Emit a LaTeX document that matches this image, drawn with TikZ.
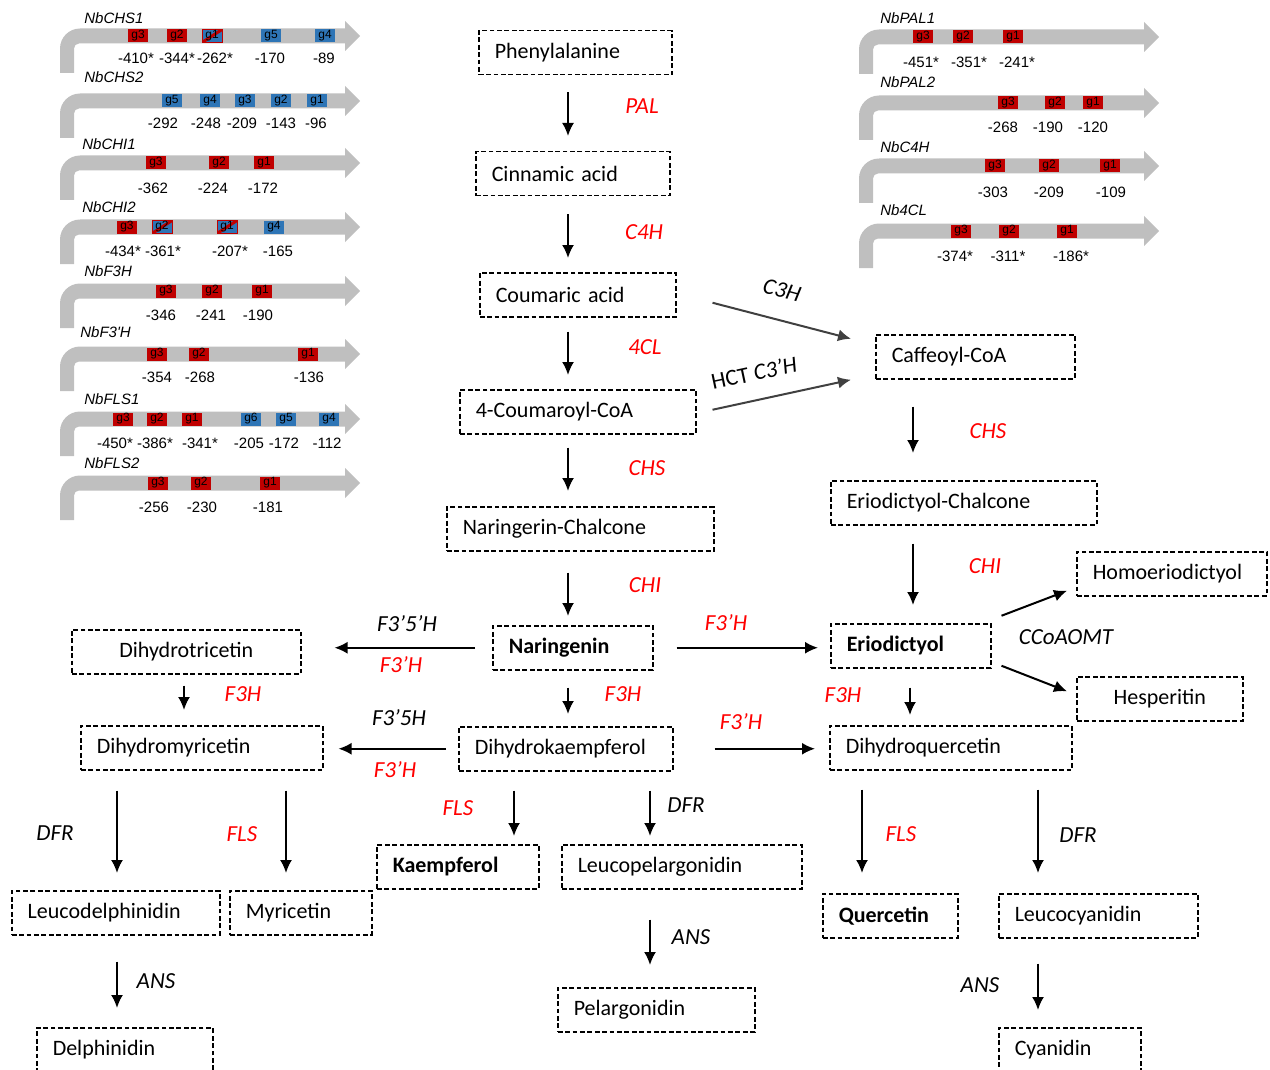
\documentclass[tikz,border=0pt]{standalone}
\usepackage{fontspec}
\setmainfont{Carlito}
\newfontfamily\arialfont{Liberation Sans}
\usetikzlibrary{arrows.meta}

\definecolor{geneRed}{HTML}{C00000}
\definecolor{geneBlue}{HTML}{2E75B6}
\definecolor{barGray}{HTML}{BFBFBF}
\definecolor{enzRed}{HTML}{FF0000}
\definecolor{sideArrow}{HTML}{404040}

\tikzset{
  promoter/.pic={
    \fill[barGray] (0,37) -- (0,12.5) arc[start angle=180,end angle=270,radius=20]
      -- (285,-7.5) -- (285,-15) -- (300,0) -- (285,15) -- (285,7.5)
      -- (19,7.5) arc[start angle=270,end angle=180,radius=5] -- (14,37) -- cycle;
  },
  gred/.style={fill=geneRed, minimum width=10pt, minimum height=6.5pt, inner sep=0pt,
    font=\arialfont\fontsize{6}{6}\selectfont},
  gblue/.style={gred, fill=geneBlue},
  gmix/.style={gblue, draw=geneRed, line width=0.5pt,
    path picture={\draw[geneRed,line width=1.5pt] (path picture bounding box.south west)
      -- (path picture bounding box.north east);}},
  gname/.style={anchor=west, inner sep=0pt, font=\arialfont\itshape\fontsize{7.5}{9}\selectfont},
  gpos/.style={inner sep=0pt, font=\arialfont\fontsize{7.5}{9}\selectfont},
  cpd/.style={draw, dash pattern=on 2.4pt off 1.3pt, line width=0.75pt, anchor=north west,
    inner xsep=8pt, inner ysep=0pt, minimum height=22pt, align=left,
    font=\fontsize{11}{13}\selectfont},
  flow/.style={-{Latex[length=6.5pt,width=6pt]}, line width=1pt},
  enz/.style={font=\itshape\fontsize{11.5}{13}\selectfont, text=enzRed, inner sep=0pt},
  enzk/.style={enz, text=black},
}

\begin{document}
\begin{tikzpicture}[x=0.5pt,y=-0.5pt]

  \useasboundingbox (0,0) rectangle (1270,1070);

  % Promoter panels, left
  \pic at (60,36) {promoter};
  \node[gname] (chsA) at (84,18) {NbCHS1};
  \foreach \x/\g/\s in {138/g3/gred,177/g2/gred,212/g1/gmix,271/g5/gblue,325/g4/gblue}
    \node[\s] (chsA\g) at (\x,36) {\g};
  \foreach \x/\t [count=\i] in {136/-410*,177/-344*,215/-262*,270/-170,324/-89}
    \node[gpos] (chsAp\i) at (\x,58) {\t};

  \pic at (60,101) {promoter};
  \node[gname] (chsB) at (84,77) {NbCHS2};
  \foreach \x/\g in {172/g5,210/g4,245/g3,281/g2,317/g1}
    \node[gblue] (chsB\g) at (\x,101) {\g};
  \foreach \x/\t [count=\i] in {163/-292,206/-248,242/-209,281/-143,316/-96}
    \node[gpos] (chsBp\i) at (\x,123) {\t};

  \pic at (60,163) {promoter};
  \node[gname] (chiA) at (82,144) {NbCHI1};
  \foreach \x/\g in {156/g3,219/g2,264/g1}
    \node[gred] (chiA\g) at (\x,163) {\g};
  \foreach \x/\t [count=\i] in {153/-362,213/-224,263/-172}
    \node[gpos] (chiAp\i) at (\x,188) {\t};

  \pic at (60,227) {promoter};
  \node[gname] (chiB) at (82,207) {NbCHI2};
  \foreach \x/\g/\s in {127/g3/gred,162/g2/gmix,227/g1/gmix,274/g4/gblue}
    \node[\s] (chiB\g) at (\x,227) {\g};
  \foreach \x/\t [count=\i] in {123/-434*,163/-361*,230/-207*,278/-165}
    \node[gpos] (chiBp\i) at (\x,251) {\t};

  \pic at (60,291) {promoter};
  \node[gname] (fht) at (84,271) {NbF3H};
  \foreach \x/\g in {166/g3,212/g2,262/g1}
    \node[gred] (fht\g) at (\x,291) {\g};
  \foreach \x/\t [count=\i] in {161/-346,211/-241,258/-190}
    \node[gpos] (fhtp\i) at (\x,315) {\t};

  \pic at (60,354) {promoter};
  \node[gname] (fth) at (80,332) {NbF3'H};
  \foreach \x/\g in {157/g3,199/g2,308/g1}
    \node[gred] (fth\g) at (\x,354) {\g};
  \foreach \x/\t [count=\i] in {157/-354,200/-268,309/-136}
    \node[gpos] (fthp\i) at (\x,377) {\t};

  \pic at (60,419) {promoter};
  \node[gname] (flsA) at (84,399) {NbFLS1};
  \foreach \x/\g/\s in {123/g3/gred,157/g2/gred,192/g1/gred,251/g6/gblue,286/g5/gblue,329/g4/gblue}
    \node[\s] (flsA\g) at (\x,419) {\g};
  \foreach \x/\t [count=\i] in {115/-450*,155/-386*,200/-341*,249/-205,284/-172,327/-112}
    \node[gpos] (flsAp\i) at (\x,443) {\t};

  \pic at (60,483) {promoter};
  \node[gname] (flsB) at (84,463) {NbFLS2};
  \foreach \x/\g in {158/g3,201/g2,270/g1}
    \node[gred] (flsB\g) at (\x,483) {\g};
  \foreach \x/\t [count=\i] in {154/-256,202/-230,268/-181}
    \node[gpos] (flsBp\i) at (\x,507) {\t};

  % Promoter panels, right
  \pic at (859,37) {promoter};
  \node[gname] (palA) at (880,18) {NbPAL1};
  \foreach \x/\g in {923/g3,963/g2,1013/g1}
    \node[gred] (palA\g) at (\x,37) {\g};
  \foreach \x/\t [count=\i] in {921/-451*,969/-351*,1017/-241*}
    \node[gpos] (palAp\i) at (\x,62) {\t};

  \pic at (859,103) {promoter};
  \node[gname] (palB) at (880,82) {NbPAL2};
  \foreach \x/\g in {1008/g3,1055/g2,1093/g1}
    \node[gred] (palB\g) at (\x,103) {\g};
  \foreach \x/\t [count=\i] in {1003/-268,1048/-190,1093/-120}
    \node[gpos] (palBp\i) at (\x,127) {\t};

  \pic at (859,166) {promoter};
  \node[gname] (cfh) at (880,147) {NbC4H};
  \foreach \x/\g in {995/g3,1049/g2,1110/g1}
    \node[gred] (cfh\g) at (\x,166) {\g};
  \foreach \x/\t [count=\i] in {993/-303,1049/-209,1111/-109}
    \node[gpos] (cfhp\i) at (\x,192) {\t};

  \pic at (859,231) {promoter};
  \node[gname] (fcl) at (880,210) {Nb4CL};
  \foreach \x/\g in {961/g3,1009/g2,1067/g1}
    \node[gred] (fcl\g) at (\x,231) {\g};
  \foreach \x/\t [count=\i] in {955/-374*,1008/-311*,1071/-186*}
    \node[gpos] (fclp\i) at (\x,256) {\t};

  % Compounds
  \node[cpd, text width=80.5pt] (phe) at (478,30) {Phenylalanine};
  \node[cpd, text width=81pt] (cin) at (475,151) {Cinnamic acid};
  \node[cpd, text width=82pt] (cou) at (479,272) {Coumaric acid};
  \node[cpd, text width=102pt] (ccoa) at (459,389) {4-Coumaroyl-CoA};
  \node[cpd, text width=117.5pt] (nchal) at (446,506) {Naringerin-Chalcone};
  \node[cpd, text width=64pt] (nar) at (492,625) {\textbf{Naringenin}};
  \node[cpd, text width=98.5pt, align=center] (dht) at (71,629) {Dihydrotricetin};
  \node[cpd, text width=105pt] (dhm) at (80,725) {Dihydromyricetin};
  \node[cpd, text width=91pt] (dhk) at (458,726) {Dihydrokaempferol};
  \node[cpd, text width=105pt] (dhq) at (829,725) {Dihydroquercetin};
  \node[cpd, text width=64pt] (eri) at (830,623) {\textbf{Eriodictyol}};
  \node[cpd, text width=79pt] (heri) at (1076,551) {Homoeriodictyol};
  \node[cpd, text width=67pt, align=center] (hes) at (1076,676) {Hesperitin};
  \node[cpd, text width=83.5pt] (caf) at (875,334) {Caffeoyl-CoA};
  \node[cpd, text width=117pt] (echal) at (830,480) {Eriodictyol-Chalcone};
  \node[cpd, text width=88pt] (ldel) at (11,890) {Leucodelphinidin};
  \node[cpd, text width=55pt] (myr) at (229,890) {Myricetin};
  \node[cpd, text width=65pt] (kae) at (376,844) {\textbf{Kaempferol}};
  \node[cpd, text width=104pt] (lpel) at (561,844) {Leucopelargonidin};
  \node[cpd, text width=82.5pt] (pel) at (557,987) {Pelargonidin};
  \node[cpd, text width=72pt] (del) at (36,1027) {Delphinidin};
  \node[cpd, text width=51.5pt] (que) at (822,893) {\textbf{Quercetin}};
  \node[cpd, text width=83.5pt] (lcya) at (998,893) {Leucocyanidin};
  \node[cpd, text width=55pt] (cya) at (998,1027) {Cyanidin};

  % Main column
  \draw[flow, shorten <=8.5pt, shorten >=7.5pt] (568,0 |- phe.south) -- (568,0 |- cin.north);
  \draw[flow, shorten <=9pt, shorten >=7pt] (568,0 |- cin.south) -- (568,0 |- cou.north);
  \draw[flow, shorten <=7pt, shorten >=7pt] (568,0 |- cou.south) -- (568,0 |- ccoa.north);
  \draw[flow, shorten <=6.5pt, shorten >=7.5pt] (568,0 |- ccoa.south) -- (568,0 |- nchal.north);
  \draw[flow, shorten <=10.5pt, shorten >=4.5pt] (568,0 |- nchal.south) -- (568,0 |- nar.north);
  \draw[flow, shorten <=8.5pt, shorten >=6pt] (568,0 |- nar.south) -- (568,0 |- dhk.north);

  % Side branches
  \draw[flow, shorten <=8.5pt, shorten >=16.5pt] (nar.west) -- (nar.west -| dht.east);
  \draw[flow, shorten <=11.5pt, shorten >=6pt] (nar.east) -- (nar.east -| eri.west);
  \draw[flow, shorten <=6pt, shorten >=7.5pt] (dhk.west) -- (dhk.west -| dhm.east);
  \draw[flow, shorten <=20.5pt, shorten >=7pt] (dhk.east) -- (dhk.east -| dhq.west);
  \draw[flow, shorten <=5.5pt, shorten >=7.5pt] (184,0 |- dht.south) -- (184,0 |- dhm.north);
  \draw[flow, shorten <=9.5pt, shorten >=5pt] (910,0 |- eri.south) -- (910,0 |- dhq.north);

  \draw[flow, sideArrow] ([xshift=18pt,yshift=-4pt]cou.east) -- ([xshift=-12pt,yshift=9pt]caf.west);
  \draw[flow, sideArrow] ([xshift=8pt,yshift=1pt]ccoa.east) -- ([xshift=-12pt,yshift=-11.5pt]caf.west);
  \draw[flow, shorten <=13.5pt, shorten >=13.5pt] (913,0 |- caf.south) -- (913,0 |- echal.north);
  \draw[flow, shorten <=9pt, shorten >=9pt] (913,0 |- echal.south) -- (913,0 |- eri.north);
  \draw[flow] ([xshift=5pt,yshift=15pt]eri.east) -- ([xshift=-4.5pt,yshift=-8.5pt]heri.west);
  \draw[flow] ([xshift=5pt,yshift=-10pt]eri.east) -- ([xshift=-4.5pt,yshift=3.75pt]hes.west);

  % End products
  \draw[flow, shorten <=10pt, shorten >=8.5pt] (117,0 |- dhm.south) -- (117,0 |- ldel.north);
  \draw[flow, shorten <=10pt, shorten >=8.5pt] (286,0 |- dhm.south) -- (286,0 |- myr.north);
  \draw[flow, shorten <=13pt, shorten >=9.5pt] (117,0 |- ldel.south) -- (117,0 |- del.north);
  \draw[flow, shorten <=9.5pt, shorten >=4pt] (514,0 |- dhk.south) -- (514,0 |- kae.north);
  \draw[flow, shorten <=9.5pt, shorten >=4pt] (650,0 |- dhk.south) -- (650,0 |- lpel.north);
  \draw[flow, shorten <=15pt, shorten >=11pt] (650,0 |- lpel.south) -- (650,0 |- pel.north);
  \draw[flow, shorten <=9.5pt, shorten >=10pt] (862,0 |- dhq.south) -- (862,0 |- que.north);
  \draw[flow, shorten <=9.5pt, shorten >=10pt] (1038,0 |- dhq.south) -- (1038,0 |- lcya.north);
  \draw[flow, shorten <=12.5pt, shorten >=8.5pt] (1038,0 |- lcya.south) -- (1038,0 |- cya.north);

  % Enzymes
  \node[enz] (ePAL) at (642,106) {PAL};
  \node[enz] (eCFH) at (644,232) {C4H};
  \node[enz] (eFCL) at (645,347) {4CL};
  \node[enz] (eCHSa) at (647,468) {CHS};
  \node[enz] (eCHIa) at (645,585) {CHI};
  \node[enz] (eFHTa) at (623,694) {F3H};
  \node[enzk] (eFFHa) at (407,624) {F3’5’H};
  \node[enz] (eFTHa) at (401,665) {F3’H};
  \node[enz] (eFTHb) at (726,623) {F3’H};
  \node[enzk] (eFFHb) at (399,718) {F3’5H};
  \node[enz] (eFTHc) at (395,770) {F3’H};
  \node[enz] (eFTHd) at (741,722) {F3’H};
  \node[enz] (eFHTb) at (243,694) {F3H};
  \node[enz] (eFHTc) at (843,695) {F3H};
  \node[enzk, rotate=-15] (eCTH) at (782,290) {C3H};
  \node[enzk, font=\fontsize{11.5}{13}\selectfont, rotate=12] (eHCT) at (754,373) {HCT \textit{C3’H}};
  \node[enz] (eCHSb) at (988,431) {CHS};
  \node[enz] (eCHIb) at (985,566) {CHI};
  \node[enzk] (eOMT) at (1066,637) {CCoAOMT};
  \node[enzk] (eDFRa) at (55,833) {DFR};
  \node[enz] (eFLSa) at (242,834) {FLS};
  \node[enz] (eFLSb) at (458,808) {FLS};
  \node[enzk] (eDFRb) at (686,805) {DFR};
  \node[enzk] (eANSa) at (691,937) {ANS};
  \node[enzk] (eANSb) at (156,981) {ANS};
  \node[enz] (eFLSc) at (901,834) {FLS};
  \node[enzk] (eDFRc) at (1078,835) {DFR};
  \node[enzk] (eANSc) at (980,985) {ANS};

\end{tikzpicture}
\end{document}
